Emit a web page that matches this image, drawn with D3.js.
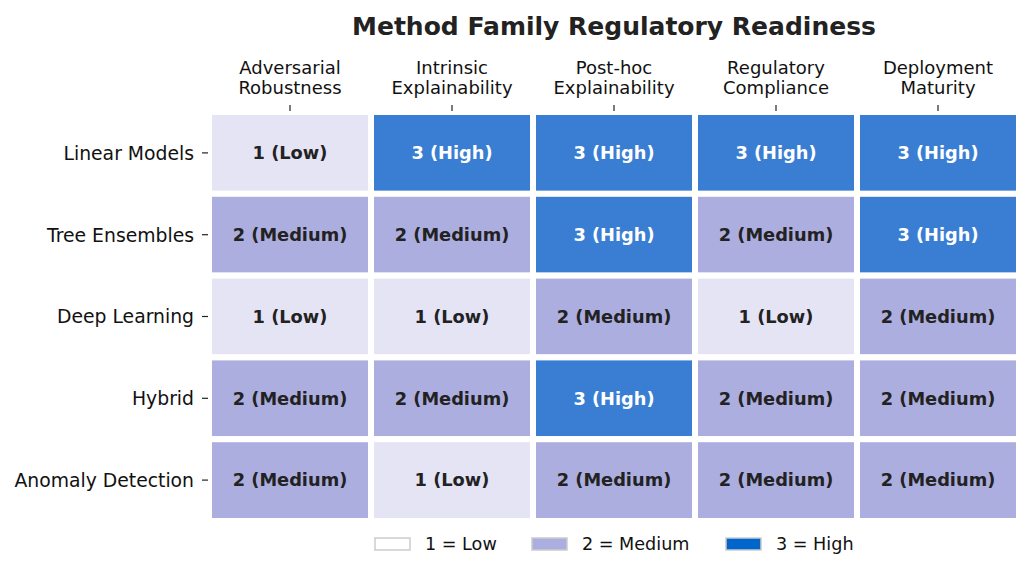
<!DOCTYPE html>
<html><head><meta charset="utf-8">
<script src="https://cdn.jsdelivr.net/npm/d3@7"></script>
<style>body{margin:0;background:#fff;} text{font-family:"DejaVu Sans",sans-serif;}</style>
</head><body>
<svg id="c" width="1034" height="576"></svg>
<script>
const families = ["Linear Models","Tree Ensembles","Deep Learning","Hybrid","Anomaly Detection"];
const criteria = [["Adversarial","Robustness"],["Intrinsic","Explainability"],["Post-hoc","Explainability"],["Regulatory","Compliance"],["Deployment","Maturity"]];
const scores = [
  [1,3,3,3,3],
  [2,2,3,2,3],
  [1,1,2,1,2],
  [2,2,3,2,2],
  [2,1,2,2,2]
];
const levelNames = {1:"Low",2:"Medium",3:"High"};
const cellColors = {1:"#e5e4f5",2:"#adaee0",3:"#3a7ed4"};
const legendColors = {1:"#ffffff",2:"#adaee0",3:"#0066cc"};

const svg = d3.select("#c");
const x = d3.scaleBand().domain(d3.range(criteria.length)).range([209,1019]);
const y = d3.scaleBand().domain(d3.range(families.length)).range([112,521]);

svg.append("text").attr("x",614).attr("y",35).attr("text-anchor","middle")
  .attr("font-size",25).attr("font-weight","bold").attr("fill","#222")
  .text("Method Family Regulatory Readiness");

const cells = [];
scores.forEach((row,i)=>row.forEach((v,j)=>cells.push({i,j,v})));

svg.selectAll("rect.cell").data(cells).enter().append("rect")
  .attr("x",d=>x(d.j)).attr("y",d=>y(d.i))
  .attr("width",x.bandwidth()).attr("height",y.bandwidth())
  .attr("fill",d=>cellColors[d.v]).attr("stroke","#fff").attr("stroke-width",6);

svg.selectAll("text.cell").data(cells).enter().append("text")
  .attr("x",d=>x(d.j)+x.bandwidth()/2).attr("y",d=>y(d.i)+y.bandwidth()/2)
  .attr("dy","0.35em").attr("text-anchor","middle")
  .attr("font-size",17.8).attr("font-weight","bold")
  .attr("fill",d=>d.v===3?"#fff":"#222")
  .text(d=>`${d.v} (${levelNames[d.v]})`);

const colG = svg.append("g");
criteria.forEach((c,j)=>{
  const cx = x(j)+x.bandwidth()/2;
  colG.append("line").attr("x1",cx).attr("x2",cx).attr("y1",105).attr("y2",111).attr("stroke","#222").attr("stroke-width",1.2);
  const t = colG.append("text").attr("x",cx).attr("y",74).attr("text-anchor","middle").attr("font-size",18).attr("fill","#111");
  t.append("tspan").attr("x",cx).attr("dy",0).text(c[0]);
  t.append("tspan").attr("x",cx).attr("dy","1.1em").text(c[1]);
});
families.forEach((f,i)=>{
  const cy = y(i)+y.bandwidth()/2;
  svg.append("line").attr("x1",202).attr("x2",208).attr("y1",cy).attr("y2",cy).attr("stroke","#222").attr("stroke-width",1.2);
  svg.append("text").attr("x",194).attr("y",cy).attr("dy","0.37em").attr("text-anchor","end")
    .attr("font-size",18.8).attr("fill","#111").text(f);
});

const legX = [375,532,726];
[1,2,3].forEach((v,k)=>{
  svg.append("rect").attr("x",legX[k]).attr("y",538).attr("width",35).attr("height",12)
    .attr("fill",legendColors[v]).attr("stroke","#ccc").attr("stroke-width",1.5);
  svg.append("text").attr("x",legX[k]+50).attr("y",544).attr("dy","0.35em")
    .attr("font-size",17.6).attr("fill","#111").text(`${v} = ${levelNames[v]}`);
});
</script>
</body></html>
